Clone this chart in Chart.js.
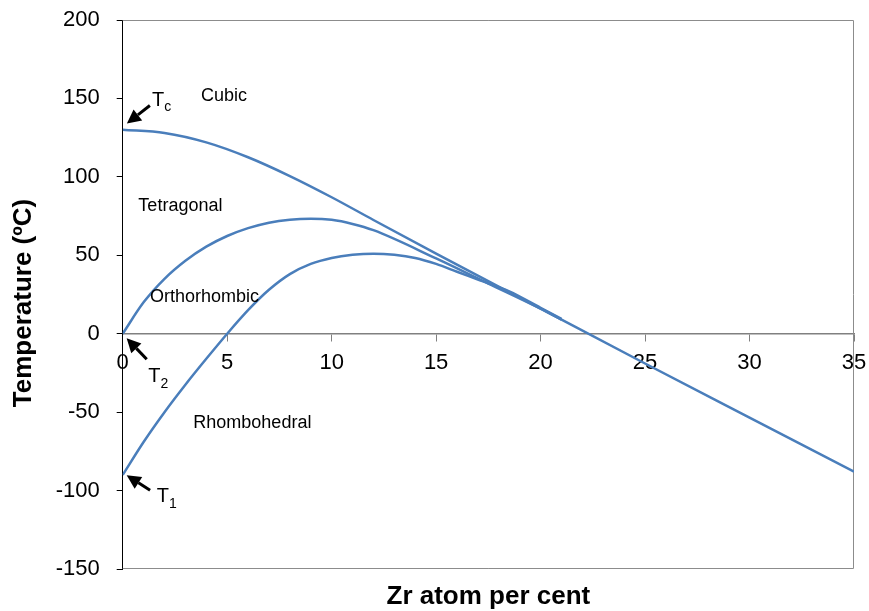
<!DOCTYPE html>
<html>
<head>
<meta charset="utf-8">
<script src="https://cdn.jsdelivr.net/npm/chart.js@4.4.0/dist/chart.umd.min.js"></script>
<style>
  html, body { margin: 0; padding: 0; background: #fff; }
  #wrap { width: 869px; height: 611px; position: relative; }
</style>
</head>
<body>
<div id="wrap"><canvas id="phaseChart"></canvas></div>
<script>
// Cubic / tetragonal boundary (starts at Tc)
const tcX = [0, 2, 4, 6, 8, 10, 12, 15, 20, 25, 30, 35];
const tcY = [130, 128, 122, 112.5, 100.5, 87, 72.5, 51, 16, -19, -53.5, -88];

// Tetragonal / orthorhombic boundary (starts at T2)
const t2X = [0, 1, 2, 3, 4, 5, 6, 7, 8, 9, 10, 11, 12, 15, 17.5, 20, 21];
const t2Y = [0, 20, 35, 46.5, 55.5, 62.3, 67.3, 70.8, 72.7, 73.3, 72.6, 70, 66, 48, 32, 16, 9];

// Orthorhombic / rhombohedral boundary (starts at T1)
const t1X = [0, 1, 2, 3, 4, 5, 6, 7, 8, 9, 10, 11, 12, 13, 14, 15, 16, 17, 18.5, 20, 21];
const t1Y = [-90, -69, -50, -32.5, -16, 0, 15, 28, 38, 44.5, 48.3, 50.3, 51, 50.3, 48.3, 44.5, 39.5, 34.5, 27, 16.5, 9.5];

const xTicks = [0, 5, 10, 15, 20, 25, 30, 35];
const yTicks = [-150, -100, -50, 0, 50, 100, 150, 200];

const phaseLabels = ["Cubic", "Tetragonal", "Orthorhombic", "Rhombohedral"];
const pointLabels = [["T", "c"], ["T", "2"], ["T", "1"]];

const lineColor = "#4a7ebb";

function toPoints(xs, ys) {
    return xs.map((x, i) => ({ x: x, y: ys[i] }));
}

function makeSet(xs, ys) {
    return {
        data: toPoints(xs, ys),
        borderColor: lineColor,
        borderWidth: 2.5,
        pointRadius: 0,
        fill: false,
        cubicInterpolationMode: "monotone"
    };
}

// annotations placed in data coordinates
const textSpots = [[3.75, 151.3], [0.75, 81.1], [1.31, 23.6], [3.38, -57.2]];
const subSpots = [[1.4, 148.6], [1.22, -27.5], [1.63, -104]];
const arrows = [
    [[1.3, 145.5], [0.2, 134]],
    [[1.15, -16.3], [0.19, -2.9]],
    [[1.31, -99.8], [0.19, -90.2]]
];

const decorations = {
    id: "decorations",
    beforeDatasetsDraw(chart) {
        const { ctx, chartArea: a } = chart;
        ctx.save();
        ctx.strokeStyle = "#8c8c8c";
        ctx.lineWidth = 1;
        ctx.beginPath();
        ctx.moveTo(a.left, a.top + 0.5);
        ctx.lineTo(a.right - 0.5, a.top + 0.5);
        ctx.lineTo(a.right - 0.5, a.bottom - 0.5);
        ctx.lineTo(a.left, a.bottom - 0.5);
        ctx.stroke();
        ctx.restore();
    },
    afterDatasetsDraw(chart) {
        const { ctx, chartArea: a } = chart;
        const xs = chart.scales.x, ys = chart.scales.y;
        const px = v => xs.getPixelForValue(v);
        const py = v => ys.getPixelForValue(v);
        ctx.save();
        ctx.fillStyle = "#000";
        ctx.textBaseline = "middle";
        ctx.textAlign = "left";
        ctx.font = "18px 'Liberation Sans', Arial, sans-serif";
        phaseLabels.forEach((t, i) => {
            ctx.fillText(t, px(textSpots[i][0]), py(textSpots[i][1]));
        });

        pointLabels.forEach((p, i) => {
            const x = px(subSpots[i][0]), y = py(subSpots[i][1]);
            ctx.font = "20px 'Liberation Sans', Arial, sans-serif";
            ctx.fillText(p[0], x, y);
            const w = ctx.measureText(p[0]).width;
            ctx.font = "14px 'Liberation Sans', Arial, sans-serif";
            ctx.fillText(p[1], x + w, y + 7);
        });

        ctx.strokeStyle = "#000";
        ctx.lineWidth = 3;
        arrows.forEach(([from, to]) => {
            const x0 = px(from[0]), y0 = py(from[1]);
            const x1 = px(to[0]), y1 = py(to[1]);
            const ang = Math.atan2(y1 - y0, x1 - x0);
            const head = 14, half = 7;
            const bx = x1 - head * Math.cos(ang), by = y1 - head * Math.sin(ang);
            ctx.beginPath();
            ctx.moveTo(x0, y0);
            ctx.lineTo(bx, by);
            ctx.stroke();
            ctx.beginPath();
            ctx.moveTo(x1, y1);
            ctx.lineTo(bx + half * Math.sin(ang), by - half * Math.cos(ang));
            ctx.lineTo(bx - half * Math.sin(ang), by + half * Math.cos(ang));
            ctx.closePath();
            ctx.fill();
        });

        // axis titles
        ctx.textAlign = "center";
        ctx.font = "bold 26px 'Liberation Sans', Arial, sans-serif";
        ctx.fillText("Zr atom per cent", (a.left + a.right) / 2, 597);
        ctx.translate(24, 303);
        ctx.rotate(-Math.PI / 2);
        ctx.fillText("Temperature (ºC)", 0, 0);
        ctx.restore();
    }
};

const tickFont = { family: "'Liberation Sans', Arial, sans-serif", size: 22 };

new Chart(document.getElementById("phaseChart").getContext("2d"), {
    type: "line",
    data: {
        datasets: [makeSet(tcX, tcY), makeSet(t2X, t2Y), makeSet(t1X, t1Y)]
    },
    options: {
        responsive: true,
        maintainAspectRatio: false,
        animation: false,
        layout: { padding: { top: 20, right: 15, bottom: 42, left: 0 } },
        plugins: {
            legend: { display: false },
            tooltip: { enabled: false }
        },
        scales: {
            x: {
                type: "linear",
                position: { y: 0 },
                min: 0,
                max: 35,
                afterBuildTicks: s => { s.ticks = xTicks.map(v => ({ value: v })); },
                afterFit: s => { s.paddingLeft = 0; s.paddingRight = 0; s.paddingTop = 0; s.paddingBottom = 0; },
                ticks: { color: "#000", font: tickFont, padding: 9, maxRotation: 0 },
                grid: { drawOnChartArea: false, drawTicks: true, tickLength: 7, color: "#808080" },
                border: { color: "#808080", width: 1.5 }
            },
            y: {
                type: "linear",
                position: "left",
                min: -150,
                max: 200,
                afterBuildTicks: s => { s.ticks = yTicks.map(v => ({ value: v })); },
                afterFit: s => { s.width = 122.7; s.paddingTop = 0; s.paddingBottom = 0; },
                ticks: { color: "#000", font: tickFont, padding: 17 },
                grid: { drawOnChartArea: false, drawTicks: true, tickLength: 6, color: "#000" },
                border: { color: "#000", width: 1 }
            }
        }
    },
    plugins: [decorations]
});
</script>
</body>
</html>
